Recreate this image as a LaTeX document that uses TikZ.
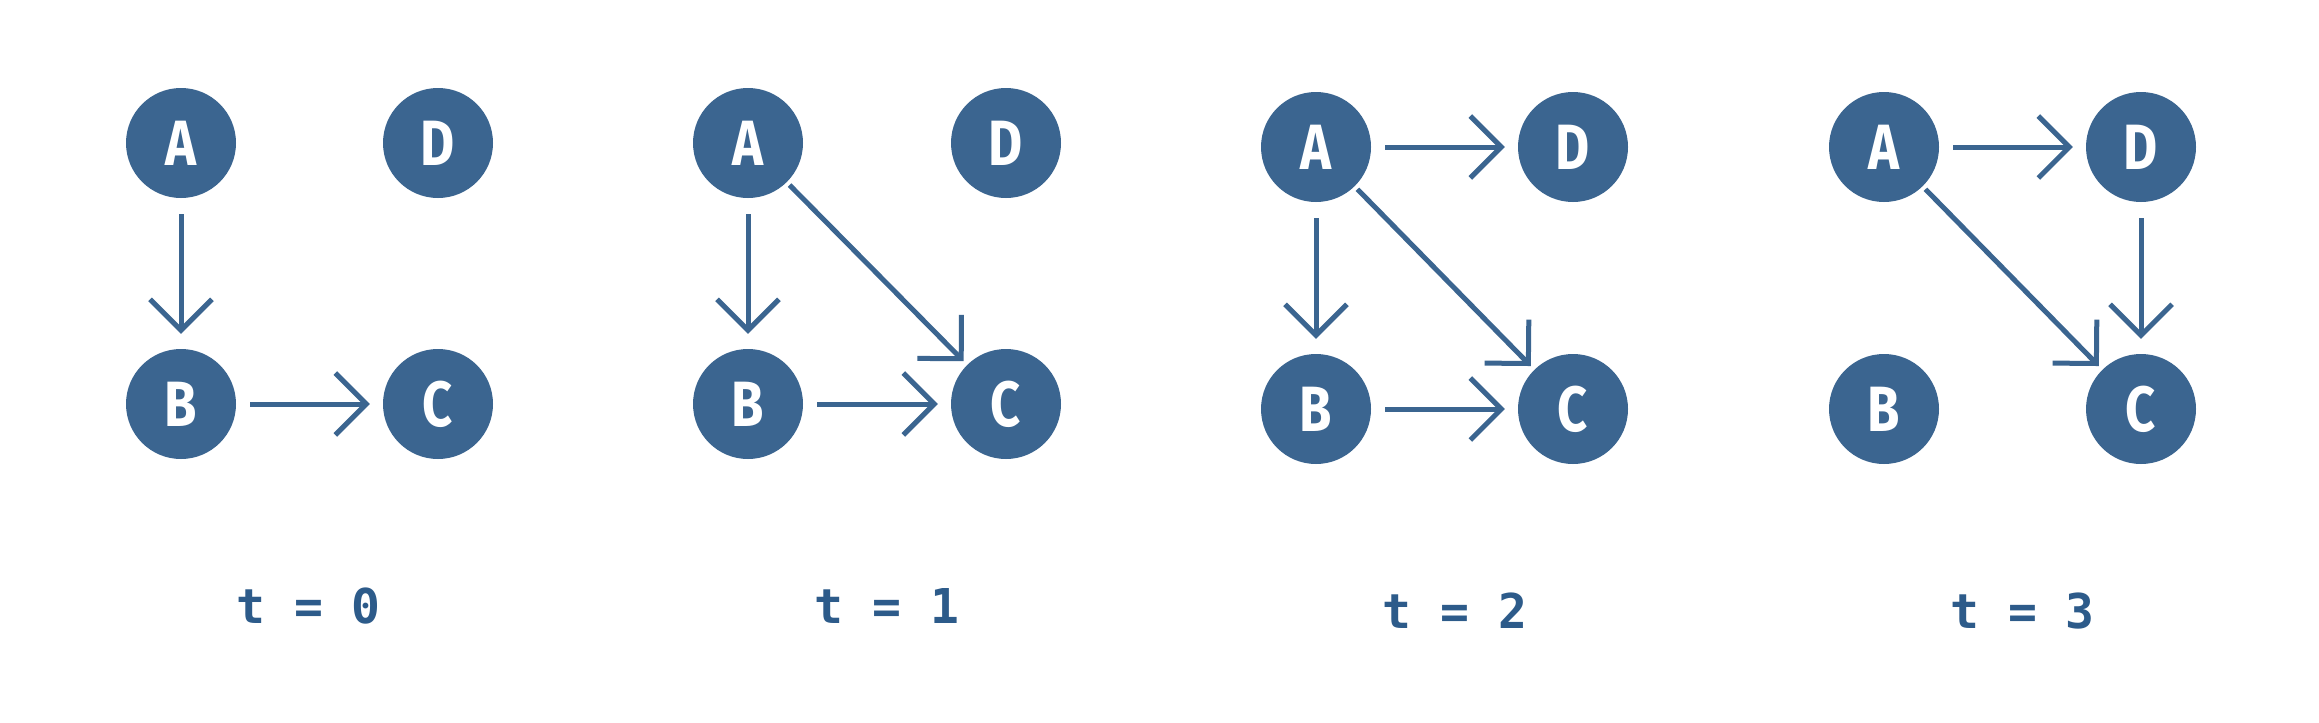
\documentclass[tikz,border=0pt]{standalone}
\usepackage{fontspec}
\usetikzlibrary{arrows.meta}
\newfontfamily\vtxfont[FakeStretch=0.82]{Fira Sans}
\newfontfamily\lblfont{DejaVu Sans Mono}
\definecolor{nodeblue}{HTML}{3B6590}
\definecolor{textblue}{HTML}{2D5B8A}
\begin{document}
\begin{tikzpicture}[x=1pt,y=-1pt,
  vtx/.style={circle,fill=nodeblue,minimum size=110pt,inner sep=0pt,text=white,
    font=\vtxfont\bfseries\fontsize{64}{64}\selectfont},
  edge/.style={draw=nodeblue,line width=5pt,line join=round,
    -{Straight Barb[length=31pt,width=62pt]}},
  vert/.style={edge,shorten <=16pt,shorten >=15pt},
  horz/.style={edge,shorten <=14pt,shorten >=13pt},
  diag/.style={edge,shorten <=4pt,shorten >=5pt},
  tlabel/.style={anchor=base,text=textblue,inner sep=0pt,
    font=\lblfont\bfseries\fontsize{48}{48}\selectfont}]
\fill[white] (0,0) rectangle (2319,723);
\useasboundingbox (0,0) rectangle (2319,723);

% panel t = 0
\node[vtx] (a1) at (181,143) {A};
\node[vtx] (d1) at (438,143) {D};
\node[vtx] (b1) at (181,404) {B};
\node[vtx] (c1) at (438,404) {C};
\draw[vert] (a1) -- (b1);
\draw[horz] (b1) -- (c1);
\node[tlabel] (t0) at (308.5,623) {t = 0};

% panel t = 1
\node[vtx] (a2) at (748,143) {A};
\node[vtx] (d2) at (1006,143) {D};
\node[vtx] (b2) at (748,404) {B};
\node[vtx] (c2) at (1006,404) {C};
\draw[vert] (a2) -- (b2);
\draw[horz] (b2) -- (c2);
\draw[diag] (a2) -- (c2);
\node[tlabel] (t1) at (887,623) {t = 1};

% panel t = 2
\node[vtx] (a3) at (1316,147) {A};
\node[vtx] (d3) at (1573,147) {D};
\node[vtx] (b3) at (1316,409) {B};
\node[vtx] (c3) at (1573,409) {C};
\draw[vert] (a3) -- (b3);
\draw[horz] (b3) -- (c3);
\draw[horz] (a3) -- (d3);
\draw[diag] (a3) -- (c3);
\node[tlabel] (t2) at (1455,628) {t = 2};

% panel t = 3
\node[vtx] (a4) at (1884,147) {A};
\node[vtx] (d4) at (2141,147) {D};
\node[vtx] (b4) at (1884,409) {B};
\node[vtx] (c4) at (2141,409) {C};
\draw[horz] (a4) -- (d4);
\draw[vert] (d4) -- (c4);
\draw[diag] (a4) -- (c4);
\node[tlabel] (t3) at (2022.5,628) {t = 3};
\end{tikzpicture}
\end{document}
